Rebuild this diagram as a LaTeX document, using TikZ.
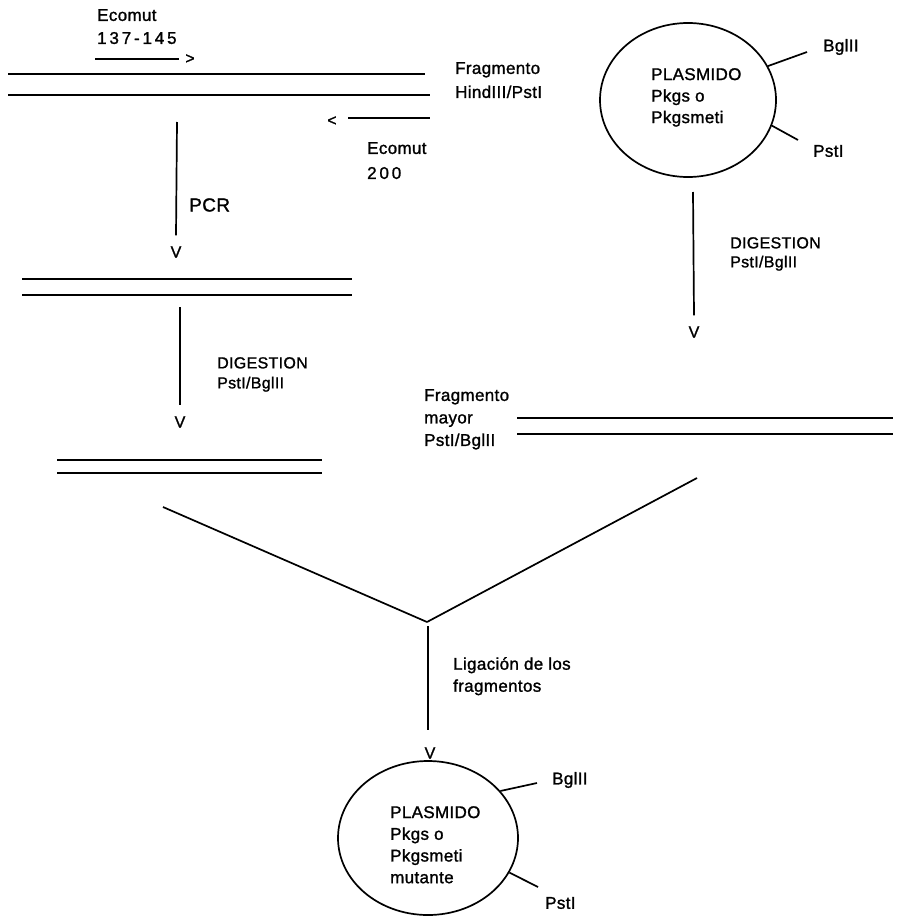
\documentclass[tikz,border=0pt]{standalone}
\usepackage{fontspec}
\setmainfont{Liberation Sans}[FakeBold=1.3,LetterSpace=2]
\usetikzlibrary{shapes.geometric}
\begin{document}
\begin{tikzpicture}[x=1pt,y=-1pt,
  strand/.style={line width=1.9pt},
  conn/.style={line width=1.7pt},
  tick/.style={line width=1.7pt},
  lbl/.style={inner sep=0pt, anchor=north west, align=left},
  vmark/.style={inner sep=0pt, font=\fontsize{16}{16}\selectfont},
  plasm/.style={ellipse, draw, line width=1.7pt, inner sep=0pt}
]
\useasboundingbox (0,0) rectangle (899,918);

% ---- top fragment and primers
\coordinate (s1a) at (8,74);   \coordinate (s1b) at (425,74);
\coordinate (s2a) at (8,95);   \coordinate (s2b) at (430,95);
\draw[strand] (s1a) -- (s1b);
\draw[strand] (s2a) -- (s2b);

\node[lbl, font=\fontsize{17}{23}\selectfont] (e1) at (97,9) {Ecomut\\1\,3\,7\,-\,1\,4\,5};
\coordinate (p1a) at (95,59); \coordinate (p1b) at (179,59);
\draw[line width=1.4pt] (p1a) -- (p1b);
\node[inner sep=0pt, font=\fontsize{16}{16}\selectfont] (gt) at (190,59) {>};

\node[inner sep=0pt, font=\fontsize{16}{16}\selectfont] (lt) at (332,121) {<};
\coordinate (p2a) at (348,118); \coordinate (p2b) at (430,118);
\draw[line width=1.4pt] (p2a) -- (p2b);
\node[lbl, font=\fontsize{17}{25}\selectfont] (e2) at (367,142) {Ecomut\\2\,0\,0};

\node[lbl, font=\fontsize{17}{24}\selectfont] (frag1) at (455,62) {Fragmento\\HindIII/PstI};

% ---- PCR step
\coordinate (pcrtop) at (177,122);
\node[vmark] (v1) at (176,252) {V};
\draw[conn] (pcrtop) -- ([yshift=11pt]v1.north);
\node[inner sep=0pt, anchor=west, font=\fontsize{19}{19}\selectfont] (pcr) at (189,205) {PCR};

\coordinate (s3a) at (22,279);  \coordinate (s3b) at (352,279);
\coordinate (s4a) at (22,295);  \coordinate (s4b) at (352,295);
\draw[strand] (s3a) -- (s3b);
\draw[strand] (s4a) -- (s4b);

% ---- digestion of PCR product
\coordinate (d1top) at (180,307);
\node[vmark] (v2) at (180,422) {V};
\draw[conn] (d1top) -- ([yshift=11pt]v2.north);
\node[lbl, font=\fontsize{16}{20}\selectfont] (dig1) at (217,357) {DIGESTION\\PstI/BglII};

\coordinate (s5a) at (57,460);  \coordinate (s5b) at (322,460);
\coordinate (s6a) at (57,473);  \coordinate (s6b) at (322,473);
\draw[strand] (s5a) -- (s5b);
\draw[strand] (s6a) -- (s6b);

% ---- top plasmid
\node[plasm, minimum width=176pt, minimum height=154pt] (pl1) at (688,100) {};
\node[lbl, font=\fontsize{17}{21.5}\selectfont] (pl1t) at (651,68) {PLASMIDO\\Pkgs o\\Pkgsmeti};
\coordinate (bg1c) at (807,52);
\coordinate (ps1c) at (798,140);
\draw[tick] (pl1.23) -- (bg1c);
\draw[tick] (pl1.-17) -- (ps1c);
\node[inner sep=0pt, anchor=west, font=\fontsize{17}{17}\selectfont] (bg1) at (823,47) {BglII};
\node[inner sep=0pt, anchor=west, font=\fontsize{17}{17}\selectfont] (ps1) at (813,151) {PstI};

% ---- digestion of plasmid
\coordinate (d2top) at (693,192);
\node[vmark] (v3) at (694,332) {V};
\draw[conn] (d2top) -- ([yshift=11pt]v3.north);
\node[lbl, font=\fontsize{16}{19}\selectfont] (dig2) at (730,237) {DIGESTION\\PstI/BglII};

\node[lbl, font=\fontsize{17}{22.5}\selectfont] (frag2) at (424,389) {Fragmento\\mayor\\PstI/BglII};
\coordinate (s7a) at (517,418);  \coordinate (s7b) at (893,418);
\coordinate (s8a) at (517,434);  \coordinate (s8b) at (893,434);
\draw[strand] (s7a) -- (s7b);
\draw[strand] (s8a) -- (s8b);

% ---- ligation
\coordinate (ya) at (163,507);
\coordinate (yj) at (427,622);
\coordinate (yb) at (697,478);
\draw[conn] (ya) -- (yj);
\draw[conn] (yj) -- (yb);
\coordinate (ligtop) at (428,626);
\node[vmark] (v4) at (430,753) {V};
\draw[conn] (ligtop) -- ([yshift=17pt]v4.north -| ligtop);
\node[lbl, font=\fontsize{17}{22}\selectfont] (lig) at (453,657) {Ligación de los\\fragmentos};

% ---- final plasmid
\node[plasm, minimum width=180pt, minimum height=154pt] (pl2) at (428,838) {};
\node[lbl, font=\fontsize{17}{21.7}\selectfont] (pl2t) at (390,806) {PLASMIDO\\Pkgs o\\Pkgsmeti\\mutante};
\coordinate (bg2c) at (537,783);
\coordinate (ps2c) at (538,887);
\draw[tick] (pl2.33) -- (bg2c);
\draw[tick] (pl2.-23) -- (ps2c);
\node[inner sep=0pt, anchor=west, font=\fontsize{17}{17}\selectfont] (bg2) at (552,780) {BglII};
\node[inner sep=0pt, anchor=west, font=\fontsize{17}{17}\selectfont] (ps2) at (545,903) {PstI};
\end{tikzpicture}
\end{document}
